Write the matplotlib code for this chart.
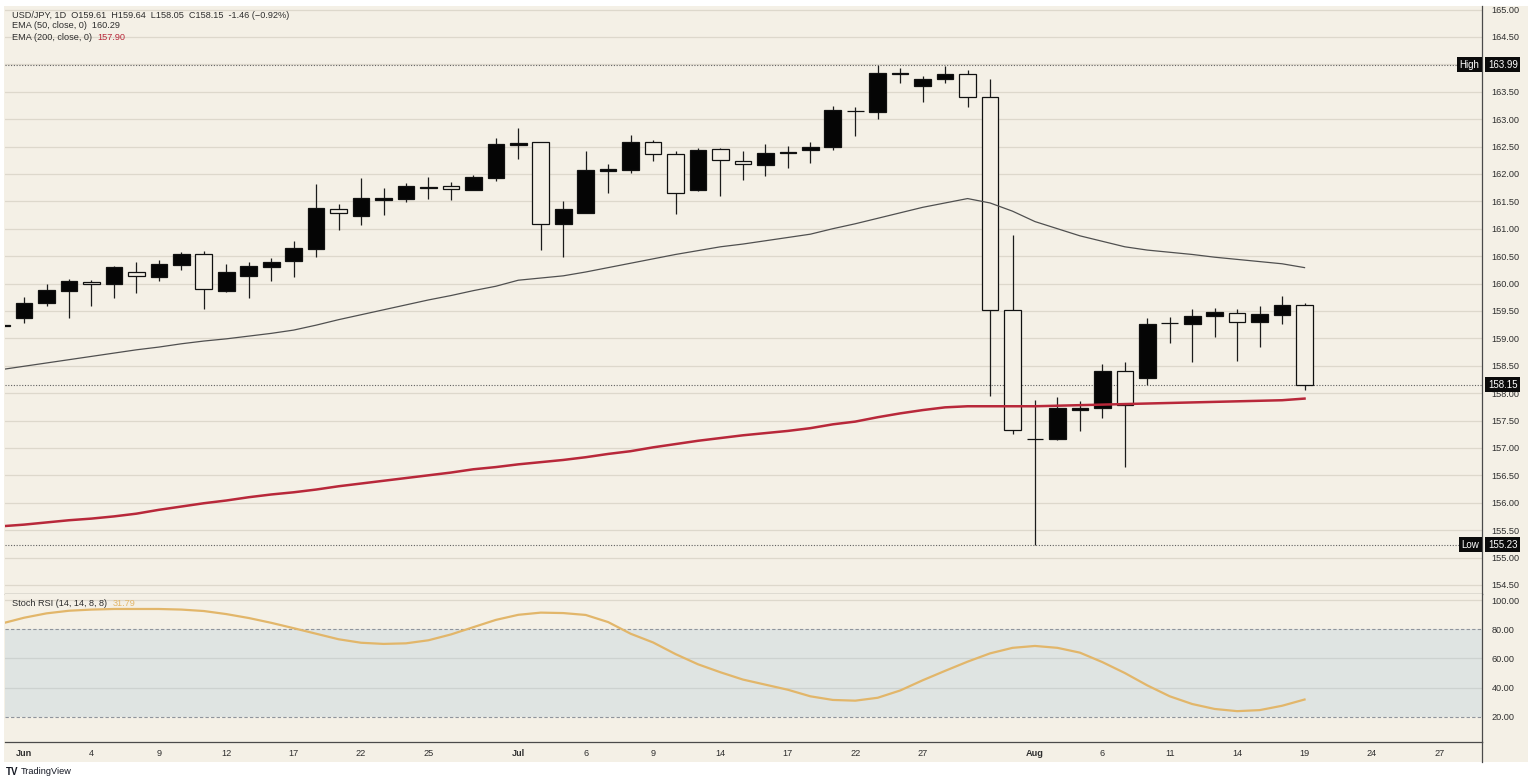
import numpy as np
import matplotlib.pyplot as plt
from matplotlib.patches import Rectangle
from matplotlib.lines import Line2D

# bars are indexed by trading day, -1 is the partly hidden bar at the left edge
opens = [159.22, 159.37, 159.64, 159.86, 160.03, 159.99, 160.21, 160.12, 160.34, 160.54,
         159.86, 160.14, 160.30, 160.41, 160.63, 161.36, 161.23, 161.52, 161.54, 161.75,
         161.78, 161.71, 161.92, 162.53, 162.58, 161.09, 161.29, 162.06, 162.08, 162.58,
         162.36, 161.70, 162.45, 162.24, 162.16, 162.39, 162.44, 162.49, 163.15, 163.13,
         163.85, 163.60, 163.73, 163.82, 163.40, 159.52, 157.17, 157.16, 157.70, 157.72,
         158.40, 158.27, 159.28, 159.27, 159.41, 159.47, 159.30, 159.42, 159.61]
highs = [159.26, 159.75, 159.99, 160.08, 160.06, 160.32, 160.39, 160.43, 160.57, 160.59,
         160.36, 160.39, 160.47, 160.78, 161.82, 161.45, 161.93, 161.74, 161.83, 161.94,
         161.85, 161.98, 162.66, 162.84, 162.58, 161.51, 162.42, 162.18, 162.71, 162.62,
         162.42, 162.47, 162.47, 162.42, 162.54, 162.51, 162.59, 163.24, 163.22, 163.99,
         163.93, 163.79, 163.96, 163.90, 163.73, 160.89, 157.87, 157.93, 157.86, 158.54,
         158.56, 159.37, 159.38, 159.53, 159.56, 159.54, 159.59, 159.77, 159.64]
lows = [159.20, 159.28, 159.59, 159.37, 159.59, 159.74, 159.83, 160.05, 160.25, 159.53,
        159.85, 159.74, 160.05, 160.12, 160.48, 160.98, 161.07, 161.25, 161.49, 161.54,
        161.52, 161.70, 161.87, 162.28, 160.61, 160.48, 161.28, 161.65, 162.02, 162.24,
        161.27, 161.69, 161.60, 161.89, 161.97, 162.11, 162.19, 162.44, 162.70, 163.00,
        163.65, 163.32, 163.65, 163.23, 157.95, 157.25, 155.23, 157.15, 157.30, 157.55,
        156.66, 158.15, 158.92, 158.57, 159.02, 158.59, 158.84, 159.27, 158.05]
closes = [159.25, 159.64, 159.88, 160.05, 159.99, 160.30, 160.14, 160.36, 160.54, 159.90,
          160.21, 160.32, 160.39, 160.65, 161.38, 161.29, 161.56, 161.56, 161.78, 161.76,
          161.72, 161.94, 162.55, 162.57, 161.08, 161.36, 162.07, 162.09, 162.58, 162.36,
          161.66, 162.44, 162.25, 162.18, 162.38, 162.40, 162.49, 163.17, 163.15, 163.85,
          163.82, 163.73, 163.82, 163.40, 159.52, 157.33, 157.16, 157.72, 157.73, 158.40,
          157.78, 159.27, 159.28, 159.41, 159.48, 159.30, 159.44, 159.61, 158.15]

ema50 = [158.43, 158.49, 158.55, 158.61, 158.67, 158.73, 158.79, 158.84, 158.90, 158.95,
         158.99, 159.04, 159.09, 159.15, 159.24, 159.34, 159.43, 159.52, 159.61, 159.70,
         159.78, 159.87, 159.95, 160.06, 160.10, 160.14, 160.21, 160.29, 160.37, 160.45,
         160.53, 160.60, 160.67, 160.72, 160.78, 160.84, 160.90, 161.00, 161.09, 161.19,
         161.29, 161.39, 161.47, 161.55, 161.47, 161.32, 161.13, 161.00, 160.87, 160.77,
         160.67, 160.61, 160.57, 160.53, 160.48, 160.44, 160.40, 160.36, 160.29]
ema200 = [155.57, 155.60, 155.64, 155.68, 155.71, 155.75, 155.80, 155.87, 155.93, 155.99,
          156.04, 156.10, 156.15, 156.19, 156.24, 156.30, 156.35, 156.40, 156.45, 156.50,
          156.55, 156.61, 156.65, 156.70, 156.74, 156.78, 156.83, 156.89, 156.94, 157.01,
          157.07, 157.13, 157.18, 157.23, 157.27, 157.31, 157.36, 157.43, 157.48, 157.56,
          157.63, 157.69, 157.74, 157.76, 157.76, 157.76, 157.76, 157.77, 157.78, 157.79,
          157.80, 157.81, 157.82, 157.83, 157.84, 157.85, 157.86, 157.87, 157.90]
stoch = [84.0, 88.0, 91.0, 92.8, 93.6, 94.0, 94.0, 94.0, 93.6, 92.6,
         90.5, 87.8, 84.5, 80.8, 77.0, 73.2, 70.8, 70.0, 70.4, 72.5,
         76.5, 81.5, 86.5, 90.0, 91.5, 91.2, 89.9, 85.0, 77.0, 71.0,
         63.0, 56.0, 50.5, 45.5, 42.0, 38.5, 34.0, 31.5, 31.0, 33.0,
         38.0, 45.0, 51.5, 57.8, 63.5, 67.3, 68.6, 67.3, 64.0, 57.5,
         50.0, 41.5, 34.0, 28.7, 25.3, 23.8, 24.5, 27.5, 31.79]

date_pos = [0, 3, 6, 9, 12, 15, 18, 22, 25, 28, 31, 34, 37, 40, 45, 48, 51, 54, 57, 60, 63]
date_lbl = ['Jun', '4', '9', '12', '17', '22', '25', 'Jul', '6', '9', '14', '17', '22', '27',
            'Aug', '6', '11', '14', '19', '24', '27']

high_val, low_val, last_val = 163.99, 155.23, 158.15

W, H = 1528, 784
BG = '#f4f0e6'
GRID = '#ddd8cc'
TXT = '#2e2e2e'
plt.rcParams['font.family'] = ['Liberation Sans', 'DejaVu Sans']

x = np.arange(-1, len(opens) - 1)
o = np.array(opens); c = np.array(closes)
up = c >= o

fig = plt.figure(figsize=(W / 100, H / 100), dpi=100, facecolor='white')
fig.patches.append(Rectangle((4 / W, 1 - 762 / H), 1 - 4 / W, (762 - 6) / H,
                             transform=fig.transFigure, facecolor=BG, edgecolor='none', zorder=-5))
# price scale border runs down through the date strip
fig.lines.append(Line2D([1482 / W, 1482 / W], [1 - 762 / H, 1 - 742 / H], transform=fig.transFigure,
                        color='#4a4a4a', lw=0.9))

ax = fig.add_axes([5 / W, 1 - 594 / H, (1482 - 5) / W, (594 - 6) / H])
ax2 = fig.add_axes([5 / W, 1 - 742 / H, (1482 - 5) / W, (742 - 594) / H], sharex=ax)

for a in (ax, ax2):
    a.set_facecolor(BG)
    a.spines['top'].set_visible(False)
    a.spines['left'].set_visible(False)
    a.spines['right'].set_color('#4a4a4a')
    a.spines['bottom'].set_color('#4a4a4a')
    a.spines['right'].set_linewidth(0.9)
    a.spines['bottom'].set_linewidth(0.9)
    a.yaxis.tick_right()
    a.tick_params(axis='y', length=0, pad=7, labelsize=6.6, labelcolor=TXT)
    a.tick_params(axis='x', length=0)

# price pane
ax.set_xlim(-0.85, 64.9)
ax.set_ylim(154.334, 165.064)
yt = np.arange(154.5, 165.01, 0.5)
ax.set_yticks(yt)
# 164.00 sits under the High price tag
ax.set_yticklabels(['' if abs(v - 164) < 1e-6 else '%.2f' % v for v in yt])
for v in yt:
    ax.axhline(v, color=GRID, lw=0.9, zorder=1)
ax.tick_params(axis='x', labelbottom=False)

ax.vlines(x, lows, highs, color='#1c1c1c', lw=0.9, zorder=2)
ax.bar(x, np.abs(c - o), bottom=np.minimum(o, c), width=0.74,
       color=np.where(up, '#050505', BG), edgecolor='#111111', linewidth=0.9, zorder=3)

ax.plot(x, ema50, color='#505050', lw=0.9, zorder=4)
ax.plot(x, ema200, color='#b8283a', lw=1.8, zorder=4)

for v in (high_val, low_val, last_val):
    ax.axhline(v, color='#606060', lw=0.8, ls=(0, (1, 1.5)), zorder=2)

tr = ax.get_yaxis_transform()
box = dict(facecolor='#0b0b0b', edgecolor='none', pad=1.8)
for v, tag in ((high_val, 'High'), (low_val, 'Low'), (last_val, None)):
    ax.text(1.004, v, '%.2f' % v, transform=tr, ha='left', va='center', fontsize=7,
            color='white', bbox=box, zorder=6, clip_on=False)
    if tag:
        ax.text(0.9983, v, tag, transform=tr, ha='right', va='center', fontsize=7,
                color='white', bbox=box, zorder=6, clip_on=False)

# stoch rsi pane
ax2.set_ylim(2.6, 104.3)
ax2.set_yticks([20, 40, 60, 80, 100])
ax2.set_yticklabels(['20.00', '40.00', '60.00', '80.00', '100.00'])
ax2.axhspan(20, 80, color='#dfe4e2', zorder=1, lw=0)
for v in (40, 60, 100):
    ax2.axhline(v, color='#cdd2d0' if v != 100 else GRID, lw=0.9, zorder=1.5)
for v in (20, 80):
    ax2.axhline(v, color='#8f949c', lw=0.8, ls=(0, (3, 2)), zorder=1.5)
ax2.plot(x, stoch, color='#e2b66a', lw=1.6, zorder=4)

ax2.set_xticks(date_pos)
ax2.set_xticklabels(date_lbl)
ax2.tick_params(axis='x', labelsize=6.6, labelcolor=TXT, pad=5)
for t in ax2.get_xticklabels():
    if t.get_text() in ('Jun', 'Jul', 'Aug'):
        t.set_fontweight('bold')

# header texts
def ftext(px, py, s, **kw):
    kw.setdefault('fontsize', 6.6)
    kw.setdefault('color', TXT)
    return fig.text(px / W, 1 - py / H, s, va='center', ha='left', **kw)

def after(a, t, s, color):
    return a.annotate(s, xy=(1, 0.5), xycoords=t, xytext=(4, 0), textcoords='offset points',
                      va='center', ha='left', fontsize=6.6, color=color,
                      annotation_clip=False, clip_on=False)

ftext(12, 15, 'USD/JPY, 1D  O159.61  H159.64  L158.05  C158.15  -1.46 (\u22120.92%)')
ftext(12, 26, 'EMA (50, close, 0)  160.29')
t1 = ftext(12, 37, 'EMA (200, close, 0)')
after(ax, t1, '157.90', '#b8283a')
t2 = ftext(12, 603, 'Stoch RSI (14, 14, 8, 8)')
after(ax2, t2, '31.79', '#e2b66a')
ftext(6, 772, 'TV', fontsize=7, fontweight='bold', color='#131722')
ftext(21, 772, 'TradingView', fontsize=6.6, color='#131722')

fig.savefig('out.png', dpi=100, facecolor='white')
